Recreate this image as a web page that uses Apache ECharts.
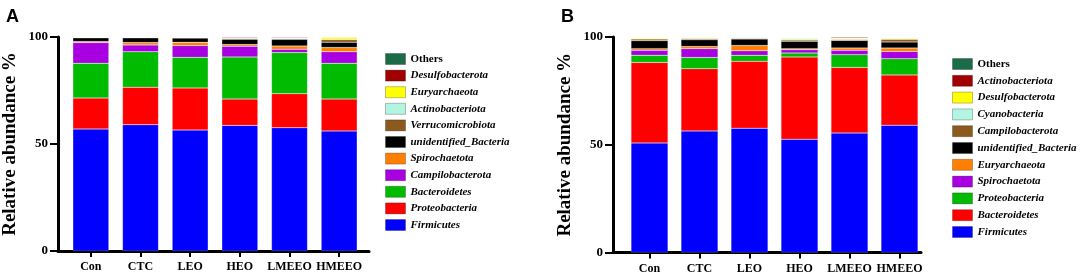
<!DOCTYPE html>
<html lang="en">
<head>
    <meta charset="UTF-8">
    <title>Relative abundance</title>
    <script src="https://cdn.jsdelivr.net/npm/echarts@6/dist/echarts.min.js"></script>
    <style>
        body { margin: 0; background: #fff; }
        #wrap { position: relative; width: 1084px; height: 276px; }
        .chart { position: absolute; top: 0; height: 276px; }
        #chartA { left: 0; width: 540px; }
        #chartB { left: 540px; width: 544px; }
    </style>
</head>
<body>
<div id="wrap">
    <div id="chartA" class="chart"></div>
    <div id="chartB" class="chart"></div>
</div>
<script>
    var groups = ['Con', 'CTC', 'LEO', 'HEO', 'LMEEO', 'HMEEO'];
    var yTicks = [0, 50, 100];

    // panel A, bottom to top
    var namesA = ['Firmicutes', 'Proteobacteria', 'Bacteroidetes', 'Campilobacterota', 'Spirochaetota',
        'unidentified_Bacteria', 'Verrucomicrobiota', 'Actinobacteriota', 'Euryarchaeota', 'Desulfobacterota', 'Others'];
    var colorsA = ['#0000ff', '#ff0000', '#00bb00', '#a800e0', '#ff8000',
        '#000000', '#8c5a1e', '#b3f5e1', '#ffff00', '#a00000', '#1b6b47'];
    var firmicutesA = [57.0, 59.0, 56.5, 58.7, 57.6, 56.1];
    var proteoA = [14.5, 17.5, 19.7, 12.3, 15.9, 14.9];
    var bacteroA = [16.2, 16.6, 14.3, 19.7, 19.2, 16.7];
    var campiloA = [9.7, 3.2, 5.5, 5.0, 1.6, 5.4];
    var spiroA = [0.5, 1.1, 1.5, 0.8, 1.5, 2.0];
    var unidentA = [1.7, 2.2, 2.0, 2.5, 3.1, 2.5];
    var verrucoA = [0.1, 0.1, 0.2, 0.3, 0.3, 1.2];
    var actinoA = [0.1, 0.1, 0.1, 0.2, 0.3, 0.2];
    var euryA = [0.1, 0.1, 0.1, 0.1, 0.1, 0.9];
    var desulfoA = [0.1, 0.1, 0.1, 0.4, 0.4, 0.1];
    var othersA = [0.1, 0.1, 0.1, 0.1, 0.1, 0.1];

    // panel B, bottom to top
    var namesB = ['Firmicutes', 'Bacteroidetes', 'Proteobacteria', 'Spirochaetota', 'Euryarchaeota',
        'unidentified_Bacteria', 'Campilobacterota', 'Cyanobacteria', 'Desulfobacterota', 'Actinobacteriota', 'Others'];
    var colorsB = ['#0000ff', '#ff0000', '#00bb00', '#a800e0', '#ff8000',
        '#000000', '#8c5a1e', '#b3f5e1', '#ffff00', '#a00000', '#1b6b47'];
    var firmicutesB = [50.8, 56.4, 57.7, 52.6, 55.4, 59.1];
    var bacteroB = [37.4, 28.9, 31.0, 38.1, 30.5, 23.3];
    var proteoB = [3.3, 5.2, 2.8, 1.9, 5.9, 7.5];
    var spiroB = [2.3, 4.1, 2.1, 1.5, 2.0, 3.4];
    var euryB = [0.8, 1.0, 2.5, 0.5, 1.1, 1.6];
    var unidentB = [3.7, 3.1, 3.0, 3.4, 3.5, 2.8];
    var campiloB = [0.8, 0.6, 0.3, 0.6, 0.4, 1.2];
    var cyanoB = [0.2, 0.1, 0.4, 0.6, 0.3, 0.2];
    var desulfoB = [0.5, 0.4, 0.2, 0.4, 0.3, 0.4];
    var actinoB = [0.1, 0.1, 0.1, 0.2, 0.5, 0.1];
    var othersB = [0.1, 0.1, 0.1, 0.1, 0.1, 0.1];

    var seriesA = [firmicutesA, proteoA, bacteroA, campiloA, spiroA, unidentA, verrucoA, actinoA, euryA, desulfoA, othersA];
    var seriesB = [firmicutesB, bacteroB, proteoB, spiroB, euryB, unidentB, campiloB, cyanoB, desulfoB, actinoB, othersB];

    var serif = '"Liberation Serif", "Times New Roman", serif';

    // p: layout of one panel
    function buildOption(letter, names, colors, values, p) {
        var series = names.map(function (n, i) {
            return {
                name: n,
                type: 'bar',
                stack: 'total',
                xAxisIndex: 1,
                yAxisIndex: 1,
                barWidth: p.barWidth,
                data: values[i],
                itemStyle: { color: colors[i], borderColor: 'rgba(255,255,255,0.35)', borderWidth: 0.5 }
            };
        });
        var legendData = names.slice().reverse().map(function (n) {
            var c = colors[names.indexOf(n)];
            return { name: n, itemStyle: { color: c, borderColor: 'rgba(0,0,0,0.25)', borderWidth: 1 } };
        });
        return {
            animation: false,
            title: {
                text: letter, left: p.titleLeft, top: 3,
                textStyle: { fontFamily: 'Liberation Sans, Arial, sans-serif', fontWeight: 'bold', fontSize: 18, color: '#000' }
            },
            legend: {
                orient: 'vertical',
                left: p.legendLeft,
                top: p.legendTop,
                itemWidth: 20,
                itemHeight: 11,
                itemGap: p.legendGap,
                icon: 'rect',
                data: legendData,
                textStyle: {
                    fontFamily: serif, fontWeight: 'bold', fontStyle: 'italic', fontSize: 11, lineHeight: 11, color: '#000',
                    rich: { n: { fontFamily: serif, fontWeight: 'bold', fontStyle: 'normal', fontSize: 11, lineHeight: 11, color: '#000' } }
                },
                formatter: function (name) {
                    return name === 'Others' ? '{n|Others}' : name;
                }
            },
            grid: [
                // frame: axis lines, y ticks and labels
                { left: p.axisLeft, top: p.top, width: p.frameWidth, height: p.height, outerBoundsMode: 'none' },
                // data grid
                { left: p.dataLeft, top: p.top, width: p.dataWidth, height: p.height, outerBoundsMode: 'none' }
            ],
            xAxis: [
                {
                    gridIndex: 0, type: 'value', min: 0, max: 1,
                    axisLine: { show: true, lineStyle: { color: '#000', width: 3 } },
                    axisTick: { show: false }, axisLabel: { show: false }, splitLine: { show: false }
                },
                {
                    gridIndex: 1, type: 'category', data: groups,
                    axisLine: { show: false },
                    axisTick: { show: true, alignWithLabel: true, length: 6, lineStyle: { color: '#000', width: 2 } },
                    axisLabel: { interval: 0, margin: 10, fontFamily: serif, fontWeight: 'bold', fontSize: 12, color: '#000' },
                    splitLine: { show: false }
                }
            ],
            yAxis: [
                {
                    gridIndex: 0, type: 'value', min: yTicks[0], max: yTicks[2], interval: yTicks[1] - yTicks[0],
                    name: 'Relative abundance %',
                    nameLocation: 'middle',
                    nameGap: 38,
                    nameMoveOverlap: false,
                    nameTextStyle: { fontFamily: serif, fontWeight: 'bold', fontSize: 19, color: '#000' },
                    axisLine: { show: true, lineStyle: { color: '#000', width: 3 } },
                    axisTick: { show: true, length: 8, lineStyle: { color: '#000', width: 2 } },
                    axisLabel: { margin: 10, fontFamily: serif, fontWeight: 'bold', fontSize: 13, color: '#000' },
                    splitLine: { show: false }
                },
                {
                    gridIndex: 1, type: 'value', min: 0, max: 100, show: false
                }
            ],
            series: series
        };
    }

    var chartA = echarts.init(document.getElementById('chartA'));
    var chartB = echarts.init(document.getElementById('chartB'));

    chartA.setOption(buildOption('A', namesA, colorsA, seriesA, {
        titleLeft: 1, legendLeft: 380, legendTop: 48, legendGap: 4.6,
        axisLeft: 58, frameWidth: 311, dataLeft: 66, dataWidth: 298,
        top: 37, height: 214, barWidth: 36
    }));

    chartB.setOption(buildOption('B', namesB, colorsB, seriesB, {
        titleLeft: 16, legendLeft: 407, legendTop: 53, legendGap: 4.8,
        axisLeft: 73, frameWidth: 308, dataLeft: 84.5, dataWidth: 300,
        top: 37, height: 215.5, barWidth: 37
    }));

    window.onresize = function () {
        chartA.resize();
        chartB.resize();
    };
</script>
</body>
</html>
